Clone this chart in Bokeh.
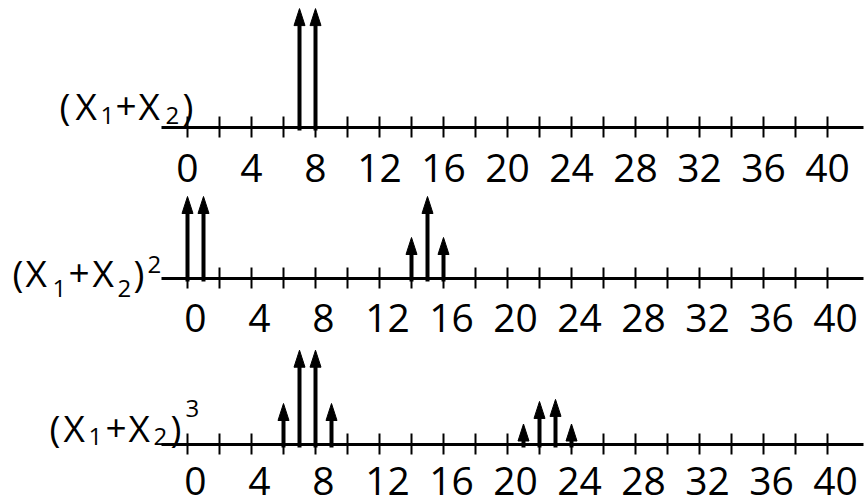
from bokeh.plotting import figure
from bokeh.models import LinearAxis, FixedTicker, Label, Range1d, ColumnDataSource
from bokeh.embed import file_html
from bokeh.resources import INLINE

# ---------------- data ----------------
tick_values = list(range(0, 41, 2))          # small tick marks
label_values = list(range(0, 41, 4))         # labelled positions
tick_labels = [str(v) for v in label_values]

row1_pos = [7, 8]
row1_val = [2.9, 2.9]
row2_pos = [0, 1, 14, 15, 16]
row2_val = [2.0, 2.0, 1.0, 2.0, 1.0]
row3_pos = [6, 7, 8, 9, 21, 22, 23, 24]
row3_val = [1.0, 2.3, 2.3, 1.0, 0.5, 1.05, 1.1, 0.5]

# row titles, split into (text, kind) pieces: main / sub / sup
row1_title = [("(", "m"), ("X", "m"), ("1", "b"), ("+", "m"), ("X", "m"), ("2", "b"), (")", "m")]
row2_title = row1_title + [("2", "p")]
row3_title = row1_title + [("3", "p")]

# ---------------- layout / style ----------------
W, H = 866, 504
X0_PX = 187
PXU = 16.0
UNIT = 41.0
HEAD_LEN = 17
HEAD_HALF = 5.5 / PXU
XMIN, XMAX = -1.625, 42.25
FONT = "Open Sans"

rows = [
    dict(base=127, pos=row1_pos, val=row1_val, shift=0.0, standoff=16,
         title=row1_title, lefts=[59, 75, 100, 115, 138, 165, 182], bl=(105, 115, 0)),
    dict(base=278, pos=row2_pos, val=row2_val, shift=0.5, standoff=15,
         title=row2_title, lefts=[12, 25, 52, 68, 92, 117, 133, 147], bl=(272, 288, 264)),
    dict(base=444, pos=row3_pos, val=row3_val, shift=0.5, standoff=12,
         title=row3_title, lefts=[49, 63, 88, 105, 128, 153, 170, 185], bl=(427, 436, 408)),
]

p = figure(width=W, height=H, output_backend="svg", toolbar_location=None,
           x_axis_location=None, y_axis_location=None,
           x_range=Range1d(-X0_PX / PXU, (W - X0_PX) / PXU),
           y_range=Range1d(0, H), min_border=0)
p.outline_line_color = None
p.background_fill_color = "white"
p.border_fill_color = "white"
p.xgrid.visible = False
p.ygrid.visible = False
for g in list(p.center):
    g.visible = False

for r in rows:
    base = H - r["base"]
    # axis line
    p.segment(x0=[XMIN], y0=[base], x1=[XMAX], y1=[base], line_color="black", line_width=3)

    # ticks & labels via a Bokeh axis fixed at the baseline
    ticks = [v + r["shift"] for v in label_values]
    axis = LinearAxis(
        fixed_location=base,
        ticker=FixedTicker(ticks=ticks, minor_ticks=tick_values),
        major_label_overrides={t: lab for t, lab in zip(ticks, tick_labels)},
        axis_line_color=None,
        major_tick_line_color=None, major_tick_in=0, major_tick_out=0,
        minor_tick_in=11, minor_tick_out=10, minor_tick_line_width=2,
        minor_tick_line_color="black",
        major_label_text_font=FONT, major_label_text_font_size="39px",
        major_label_text_color="black", major_label_standoff=r["standoff"],
    )
    p.add_layout(axis, "below")

    # arrows
    tips = [base + v * UNIT for v in r["val"]]
    src = ColumnDataSource(dict(
        x=r["pos"],
        y0=[base - 3] * len(r["pos"]),
        y1=[t - HEAD_LEN + 2 for t in tips],
    ))
    p.segment(x0="x", y0="y0", x1="x", y1="y1", source=src, line_color="black", line_width=4)
    p.patches(xs=[[x - HEAD_HALF, x, x + HEAD_HALF] for x in r["pos"]],
              ys=[[t - HEAD_LEN, t, t - HEAD_LEN] for t in tips],
              fill_color="black", line_color="black", line_width=1)

    # row title
    bl_main, bl_sub, bl_sup = r["bl"]
    for (txt, kind), left in zip(r["title"], r["lefts"]):
        if kind == "m":
            size, bl = "37px", bl_main
        elif kind == "b":
            size, bl = "24px", bl_sub
        else:
            size, bl = "24px", bl_sup
        p.add_layout(Label(x=left, y=H - bl, x_units="screen", y_units="screen", text=txt,
                           text_font=FONT, text_font_size=size, text_color="black",
                           text_align="left", text_baseline="alphabetic"))

open("out.html", "w").write(file_html(p, INLINE))
